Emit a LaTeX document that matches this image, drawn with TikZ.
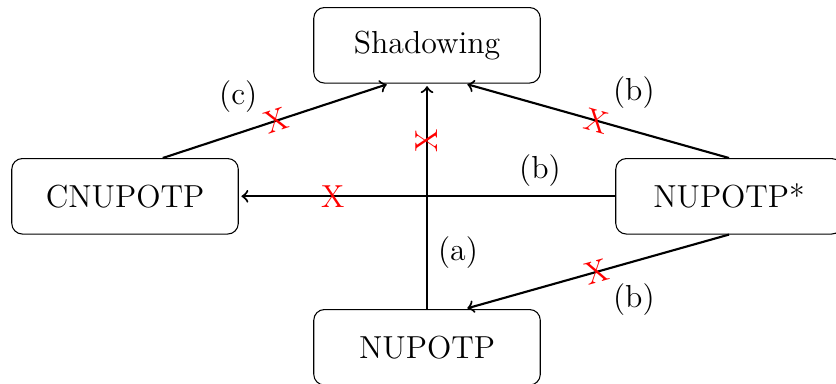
\documentclass[tikz,border=0pt]{standalone}
\usetikzlibrary{arrows}
\begin{document}
\begin{tikzpicture}[
  font=\large,
  statebox/.style={draw, rounded corners, minimum width=3cm, minimum height=1cm},
  rel/.style={->, thick, shorten >=1pt},
  cross/.style={text=red, sloped, inner sep=0pt}
]
\useasboundingbox (-1.656,2.600) rectangle (9.417,-2.473);

\node[statebox] (shadow) at (4,2)  {Shadowing};
\node[statebox] (cnu)    at (0,0)  {CNUPOTP};
\node[statebox] (nustar) at (8,0)  {NUPOTP*};
\node[statebox] (nu)     at (4,-2) {NUPOTP};

% (a): NUPOTP implies shadowing, converse fails
\draw[rel] (nu.north) -- (shadow.south)
  node[cross, pos=0.745] {X}
  node[pos=0.25, xshift=0.41cm] {(a)};

% (b): NUPOTP* vs. the other properties
\draw[rel] (nustar.west) -- (cnu.east)
  node[cross, pos=0.75] {X}
  node[pos=0.2, yshift=0.34cm] {(b)};
\draw[rel] (nustar.north) -- ([xshift=0.5cm]shadow.south)
  node[cross, pos=0.5] {X}
  node[pos=0.36, yshift=0.51cm] {(b)};
\draw[rel] (nustar.south) -- ([xshift=0.5cm]nu.north)
  node[cross, pos=0.5] {X}
  node[pos=0.36, yshift=-0.5cm] {(b)};

% (c): CNUPOTP vs. shadowing
\draw[rel] ([xshift=0.5cm]cnu.north) -- ([xshift=-0.5cm]shadow.south)
  node[cross, pos=0.5] {X}
  node[pos=0.333, yshift=0.485cm] {(c)};
\end{tikzpicture}
\end{document}
